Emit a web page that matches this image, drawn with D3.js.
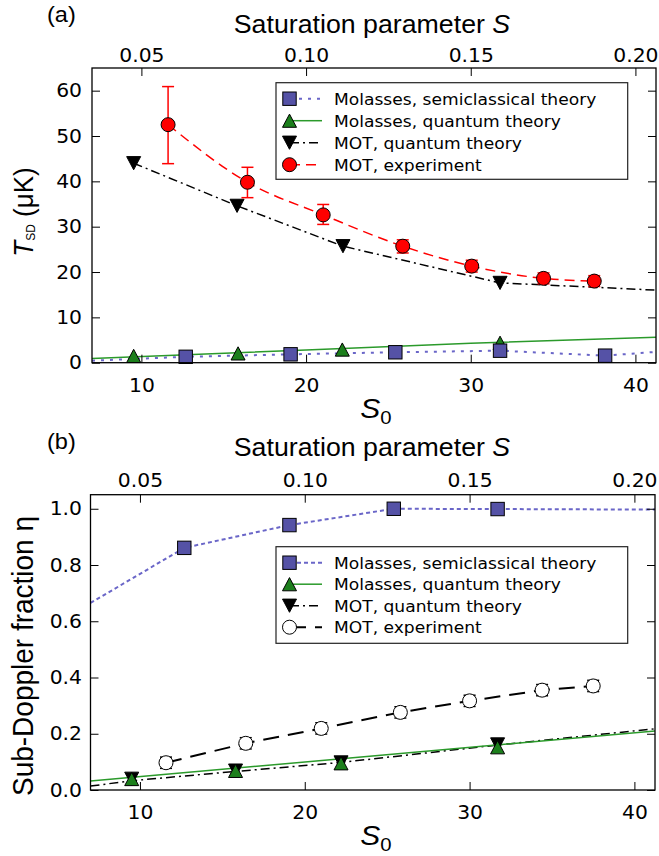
<!DOCTYPE html>
<html>
<head>
<meta charset="utf-8">
<script src="https://cdn.jsdelivr.net/npm/d3@7"></script>
<style>
  body { margin: 0; background: #fff; }
  svg { display: block; }
  .tick text { font-family: "DejaVu Sans", sans-serif; font-size: 19px; fill: #000; }
  .lab { font-family: "Liberation Sans", Arial, sans-serif; fill: #000; }
  .leg { font-family: "DejaVu Sans", sans-serif; font-size: 16px; fill: #000; }
</style>
</head>
<body>
<svg id="fig" width="659" height="856"></svg>
<script>
// ---- shared axis values ----
const s0Domain = [7, 41.25];
const s0Ticks = [10, 20, 30, 40];
const sTicks = [0.05, 0.1, 0.15, 0.2];
const legendLabels = [
  "Molasses, semiclassical theory",
  "Molasses, quantum theory",
  "MOT, quantum theory",
  "MOT, experiment"
];

// ---- panel (a): T_SD (uK) vs S0 ----
const tTicks = [0, 10, 20, 30, 40, 50, 60];
const s0MolSemiA = [12.69, 19.06, 25.42, 31.78, 38.16];
const tMolSemi = [1.3, 1.85, 2.3, 2.65, 1.55];
const s0MolSemiLineA = [7, 12.69, 19.06, 25.42, 31.78, 38.16, 41.3];
const tMolSemiLine = [0.45, 1.3, 1.85, 2.3, 2.65, 1.55, 2.4];
const s0MolQA = [9.53, 15.87, 22.2, 31.78];
const tMolQ = [1.5, 2.05, 2.9, 4.4];
const s0MolQLineA = [7, 20, 30, 41.3];
const tMolQLine = [0.95, 2.8, 4.3, 5.6];
const s0MotQA = [9.53, 15.81, 22.24, 31.78];
const tMotQ = [44.0, 34.6, 25.7, 17.6];
const s0MotQLineA = [9.53, 15.81, 22.24, 31.78, 41.3];
const tMotQLine = [44.0, 34.6, 25.7, 17.6, 16.0];
const s0MotExpA = [11.62, 16.44, 21.04, 25.87, 30.06, 34.42, 37.5];
const tMotExp = [52.5, 39.8, 32.6, 25.7, 21.3, 18.6, 18.0];
const tMotExpLo = [43.9, 36.4, 30.5, 24.2, 20.0, 17.4, 16.8];
const tMotExpHi = [60.9, 43.1, 34.9, 27.1, 22.6, 19.8, 19.2];

// ---- panel (b): sub-Doppler fraction eta vs S0 ----
const etaTicks = [0, 0.2, 0.4, 0.6, 0.8, 1.0];
const s0MolSemiB = [12.69, 19.07, 25.4, 31.7];
const etaMolSemi = [0.861, 0.942, 1.0, 0.999];
const s0MolSemiLineB = [7, 12.69, 19.07, 25.4, 31.7, 41.3];
const etaMolSemiLine = [0.665, 0.861, 0.942, 1.0, 0.999, 0.997];
const s0MotQB = [9.5, 15.8, 22.2, 31.7];
const etaMotQ = [0.04, 0.069, 0.098, 0.162];
const s0MotQLineB = [7, 9.5, 15.8, 22.2, 31.7, 41.3];
const etaMotQLine = [0.014, 0.033, 0.066, 0.098, 0.16, 0.218];
const s0MolQB = [9.5, 15.8, 22.2, 31.7];
const etaMolQ = [0.039, 0.068, 0.095, 0.152];
const s0MolQLineB = [7, 41.3];
const etaMolQLine = [0.032, 0.21];
const s0MotExpB = [11.58, 16.42, 21.0, 25.8, 30.0, 34.4, 37.5];
const etaMotExp = [0.097, 0.166, 0.219, 0.276, 0.317, 0.355, 0.37];
const etaMotExpErr = [0.02, 0.02, 0.02, 0.02, 0.02, 0.02, 0.02];

const svg = d3.select("#fig");
const K = 1.07; // picture is a bit wider than tall, so text is stretched

const colBlue = "#5552a6", colBlueLine = "#6a66c8";
const colGreen = "#1c7f1c", colGreenLine = "#2b9a2b";
const colRed = "#ff0000";

function stretch(sel, rotated) {
  sel.each(function () {
    const t = d3.select(this);
    const x = +t.attr("x") || 0;
    const y = +t.attr("y") || 0;
    t.attr("x", 0).attr("y", 0)
      .attr("transform", rotated
        ? `translate(${x},${y}) rotate(-90) scale(1,${K})`
        : `translate(${x},${y}) scale(${K},1)`);
  });
}

function triPath(up, w = 7, h = 6.6) {
  return up ? `M0,${-h}L${w},${h}L${-w},${h}Z` : `M0,${h}L${w},${-h}L${-w},${-h}Z`;
}

function marker(g, kind, cx, cy, fill) {
  if (kind === "square") {
    g.append("rect").attr("x", cx - 6.7).attr("y", cy - 6.7)
      .attr("width", 13.4).attr("height", 13.4)
      .attr("fill", fill).attr("stroke", "#000").attr("stroke-width", 1);
  } else if (kind === "up" || kind === "down") {
    g.append("path").attr("d", triPath(kind === "up"))
      .attr("transform", `translate(${cx},${cy})`)
      .attr("fill", fill).attr("stroke", "#000").attr("stroke-width", 1);
  } else {
    g.append("circle").attr("cx", cx).attr("cy", cy).attr("r", 7)
      .attr("fill", fill).attr("stroke", "#000").attr("stroke-width", 1);
  }
}

function drawPanel(p) {
  const x = d3.scaleLinear().domain(s0Domain).range([p.left, p.right]);
  const xTop = d3.scaleLinear().domain(s0Domain.map(d => d / 200)).range([p.left, p.right]);
  const y = d3.scaleLinear().domain(p.yDomain).range([p.bottom, p.top]);
  const g = svg.append("g");

  g.append("clipPath").attr("id", "clip_" + p.key)
    .append("rect").attr("x", p.left).attr("y", p.top)
    .attr("width", p.right - p.left).attr("height", p.bottom - p.top);

  // lines
  const lg = g.append("g").attr("clip-path", `url(#clip_${p.key})`);
  p.series.forEach(function (s) {
    if (!s.lx) return;
    const pts = s.lx.map((d, i) => [x(d), y(s.ly[i])]);
    lg.append("path")
      .attr("d", d3.line().curve(s.curve || d3.curveLinear)(pts))
      .attr("fill", "none").attr("stroke", s.lineColor)
      .attr("stroke-width", s.lw).attr("stroke-dasharray", s.dash || null);
  });

  // error bars + markers
  p.series.forEach(function (s) {
    const mg = g.append("g");
    s.x.forEach(function (d, i) {
      if (s.lo) {
        const cx = x(d);
        const y1 = y(s.lo[i]), y2 = y(s.hi[i]);
        mg.append("line").attr("x1", cx).attr("x2", cx).attr("y1", y1).attr("y2", y2)
          .attr("stroke", s.errColor).attr("stroke-width", 1.5);
        [y1, y2].forEach(yy => mg.append("line")
          .attr("x1", cx - 6).attr("x2", cx + 6).attr("y1", yy).attr("y2", yy)
          .attr("stroke", s.errColor).attr("stroke-width", 1.5));
      }
      marker(mg, s.marker, x(d), y(s.y[i]), s.fill);
    });
  });

  // axes, ticks pointing inward on all sides
  const strip = a => a.select(".domain").remove();
  g.append("g").attr("transform", `translate(0,${p.bottom})`)
    .call(d3.axisBottom(x).tickValues(s0Ticks).tickSize(-8).tickSizeOuter(0)
      .tickPadding(15.5).tickFormat(d3.format("d")))
    .call(strip).call(a => stretch(a.selectAll("text")));
  g.append("g").attr("transform", `translate(0,${p.top})`)
    .call(d3.axisTop(xTop).tickValues(sTicks).tickSize(-8).tickSizeOuter(0)
      .tickPadding(p.topPad).tickFormat(d3.format(".2f")))
    .call(strip).call(a => stretch(a.selectAll("text")));
  g.append("g").attr("transform", `translate(${p.left},0)`)
    .call(d3.axisLeft(y).tickValues(p.yTicks).tickSize(-8).tickSizeOuter(0)
      .tickPadding(p.left - 82).tickFormat(p.yFormat))
    .call(strip).call(a => stretch(a.selectAll("text")));
  g.append("g").attr("transform", `translate(${p.right},0)`)
    .call(d3.axisRight(y).tickValues(p.yTicks).tickSize(-8).tickSizeOuter(0).tickFormat(""))
    .call(strip);
  g.selectAll(".tick line").attr("stroke", "#000").attr("stroke-width", 1);

  g.append("rect").attr("x", p.left).attr("y", p.top)
    .attr("width", p.right - p.left).attr("height", p.bottom - p.top)
    .attr("fill", "none").attr("stroke", "#000").attr("stroke-width", 1.3);

  // legend
  const lgd = g.append("g");
  lgd.append("rect").attr("x", 276).attr("y", p.legTop).attr("width", 351.7).attr("height", 96.6)
    .attr("fill", "#fff").attr("stroke", "#222").attr("stroke-width", 1.2);
  p.legendOrder.forEach(function (s, i) {
    const cy = p.legTop + 16 + i * p.legStep;
    lgd.append("line").attr("x1", 290).attr("x2", 322).attr("y1", cy).attr("y2", cy)
      .attr("stroke", s.lineColor).attr("stroke-width", s.lw)
      .attr("stroke-dasharray", s.dash || null);
    marker(lgd, s.marker, 289.5, cy, s.fill);
    lgd.append("text").attr("class", "leg").attr("x", 334).attr("y", cy + 5.8)
      .text(legendLabels[i]).call(t => stretch(t));
  });

  // labels
  g.append("text").attr("class", "lab").attr("x", 47).attr("y", p.top - p.panelDy)
    .attr("font-size", 22).text(p.panel).call(t => stretch(t));
  const st = g.append("text").attr("class", "lab").attr("x", 372).attr("y", p.top - p.titleDy)
    .attr("font-size", 25).attr("text-anchor", "middle");
  st.append("tspan").text("Saturation parameter ");
  st.append("tspan").attr("font-style", "italic").text("S");
  stretch(st);
  const sx = g.append("text").attr("class", "lab").attr("x", 376).attr("y", p.bottom + 55)
    .attr("font-size", 28).attr("text-anchor", "middle");
  sx.append("tspan").attr("font-style", "italic").text("S");
  sx.append("tspan").attr("font-size", 19).attr("dy", 6).text("0");
  stretch(sx);
  const yl = g.append("text").attr("class", "lab").attr("x", 33).attr("y", p.yLabelCy)
    .attr("text-anchor", "middle").attr("font-size", p.yLabelSize);
  p.yLabel(yl);
  stretch(yl, true);
}

const semiA = { x: s0MolSemiA, y: tMolSemi, lx: s0MolSemiLineA, ly: tMolSemiLine, marker: "square",
  fill: colBlue, lineColor: colBlueLine, lw: 2, dash: "3,6" };
const molQA = { x: s0MolQA, y: tMolQ, lx: s0MolQLineA, ly: tMolQLine, marker: "up",
  fill: colGreen, lineColor: colGreenLine, lw: 1.5 };
const motQA = { x: s0MotQA, y: tMotQ, lx: s0MotQLineA, ly: tMotQLine, marker: "down",
  fill: "#000", lineColor: "#000", lw: 1.5, dash: "9,4,2,4" };
const expA = { x: s0MotExpA, y: tMotExp, lx: s0MotExpA, ly: tMotExp, lo: tMotExpLo, hi: tMotExpHi,
  marker: "circle", fill: colRed, lineColor: colRed, lw: 1.5, dash: "10,6",
  errColor: colRed, curve: d3.curveMonotoneX };

drawPanel({
  key: "a", panel: "(a)", left: 92, right: 656, top: 68, bottom: 362.7,
  yDomain: [0, 65], yTicks: tTicks, yFormat: d3.format("d"),
  topPad: 6.5, panelDy: 46, titleDy: 35, legTop: 82.7, legStep: 22,
  series: [molQA, semiA, motQA, expA],
  legendOrder: [semiA, molQA, motQA, expA],
  yLabelCy: 212, yLabelSize: 26,
  yLabel: function (t) {
    t.append("tspan").attr("font-style", "italic").text("T");
    t.append("tspan").attr("font-size", 12).attr("dy", 2).text("SD");
    t.append("tspan").attr("dy", -2).text(" (\u03bcK)");
  }
});

const semiB = { x: s0MolSemiB, y: etaMolSemi, lx: s0MolSemiLineB, ly: etaMolSemiLine, marker: "square",
  fill: colBlue, lineColor: colBlueLine, lw: 2, dash: "4,3" };
const motQB = { x: s0MotQB, y: etaMotQ, lx: s0MotQLineB, ly: etaMotQLine, marker: "down",
  fill: "#000", lineColor: "#000", lw: 1.5, dash: "9,4,2,4" };
const molQB = { x: s0MolQB, y: etaMolQ, lx: s0MolQLineB, ly: etaMolQLine, marker: "up",
  fill: colGreen, lineColor: colGreenLine, lw: 1.5 };
const expB = { x: s0MotExpB, y: etaMotExp, lx: s0MotExpB, ly: etaMotExp,
  lo: etaMotExp.map((d, i) => d - etaMotExpErr[i]), hi: etaMotExp.map((d, i) => d + etaMotExpErr[i]),
  marker: "circle", fill: "#fff", lineColor: "#000", lw: 2, dash: "16,9", errColor: "#000" };

drawPanel({
  key: "b", panel: "(b)", left: 90.5, right: 655, top: 494.7, bottom: 790,
  yDomain: [0, 1.05], yTicks: etaTicks, yFormat: d3.format(".1f"),
  topPad: 8, panelDy: 46, titleDy: 38.5, legTop: 546.7, legStep: 21.5,
  series: [semiB, motQB, molQB, expB],
  legendOrder: [semiB, molQB, motQB, expB],
  yLabelCy: 656, yLabelSize: 28,
  yLabel: function (t) { t.text("Sub-Doppler fraction \u03b7"); }
});
</script>
</body>
</html>
